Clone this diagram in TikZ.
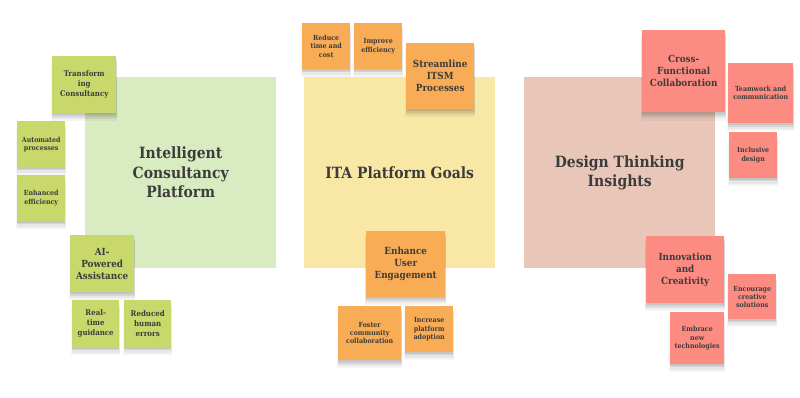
\documentclass[tikz,border=0pt]{standalone}
\usepackage{fontspec}
\newfontfamily\slab{DejaVu Serif Condensed Bold}
\usetikzlibrary{shadows}
\definecolor{gbig}{HTML}{D9EBC0}
\definecolor{ybig}{HTML}{F9E8A5}
\definecolor{pbig}{HTML}{E8C7B9}
\definecolor{gst}{HTML}{C9D86B}
\definecolor{ost}{HTML}{F8AC55}
\definecolor{pst}{HTML}{FC8C82}
\definecolor{txt}{HTML}{3C3C3C}
\tikzset{
  big/.style={anchor=north west, inner sep=0pt, minimum width=191pt, minimum height=191pt, text=txt, align=center, font=\slab\fontsize{15.5}{19.5}\selectfont},
  sticky/.style={anchor=north west, inner sep=0pt, text=txt, align=center,
    general shadow={shadow yshift=-7pt, shadow scale=1.03, fill=black, opacity=.04},
    general shadow={shadow yshift=-5pt, shadow scale=1.02, fill=black, opacity=.06},
    general shadow={shadow yshift=-3pt, shadow scale=1.01, fill=black, opacity=.08},
    general shadow={shadow yshift=-1.5pt, fill=black, opacity=.08}},
  small/.style={font=\slab\fontsize{7}{8.2}\selectfont},
  mid/.style={font=\slab\fontsize{7.8}{10}\selectfont},
  large/.style={font=\slab\fontsize{9.8}{12}\selectfont},
  gs/.style={sticky, fill=gst},
  os/.style={sticky, fill=ost},
  ps/.style={sticky, fill=pst},
}
\begin{document}
\begin{tikzpicture}[x=1pt, y=1pt]
\useasboundingbox (0,0) rectangle (800,397);
% big squares
\node[big, fill=gbig] (icp) at (85,320) {Intelligent\\Consultancy\\Platform};
\node[big, fill=ybig] (ita) at (304,320) {ITA Platform Goals};
\node[big, fill=pbig] (dti) at (524,320) {Design Thinking\\Insights};
% green stickies
\node[gs, mid, minimum width=64pt, minimum height=57pt] (tc) at (52,341) {Transform\\ing\\Consultancy};
\node[gs, small, minimum width=48pt, minimum height=46pt] (ap) at (17,276) {Automated\\processes};
\node[gs, small, minimum width=48pt, minimum height=46pt] (ee) at (17,222) {Enhanced\\efficiency};
\node[gs, large, minimum width=64pt, minimum height=57pt] (ai) at (70,162) {AI-\\Powered\\Assistance};
\node[gs, mid, minimum width=47pt, minimum height=47pt] (rt) at (72,97) {Real-\\time\\guidance};
\node[gs, mid, minimum width=47pt, minimum height=47pt] (rh) at (124,97) {Reduced\\human\\errors};
% orange stickies
\node[os, small, minimum width=48pt, minimum height=46pt] (rtc) at (302,374) {Reduce\\time and\\cost};
\node[os, small, minimum width=48pt, minimum height=46pt] (ie) at (354,374) {Improve\\efficiency};
\node[os, large, minimum width=68pt, minimum height=66pt] (si) at (406,354) {Streamline\\ITSM\\Processes};
\node[os, large, minimum width=79pt, minimum height=66pt] (eu) at (366,166) {Enhance\\User\\Engagement};
\node[os, small, minimum width=63pt, minimum height=54pt] (fc) at (338,91) {Foster\\community\\collaboration};
\node[os, small, minimum width=48pt, minimum height=46pt] (ipa) at (405,91) {Increase\\platform\\adoption};
% pink stickies
\node[ps, large, minimum width=83pt, minimum height=82pt] (cf) at (642,367) {Cross-\\Functional\\Collaboration};
\node[ps, small, minimum width=65pt, minimum height=60pt] (tw) at (728,334) {Teamwork and\\communication};
\node[ps, small, minimum width=48pt, minimum height=46pt] (id) at (729,265) {Inclusive\\design};
\node[ps, large, minimum width=78pt, minimum height=67pt] (ic) at (646,161) {Innovation\\and\\Creativity};
\node[ps, small, minimum width=48pt, minimum height=45pt] (ecs) at (728,123) {Encourage\\creative\\solutions};
\node[ps, small, minimum width=54pt, minimum height=52pt] (ent) at (670,85) {Embrace\\new\\technologies};
\end{tikzpicture}
\end{document}
